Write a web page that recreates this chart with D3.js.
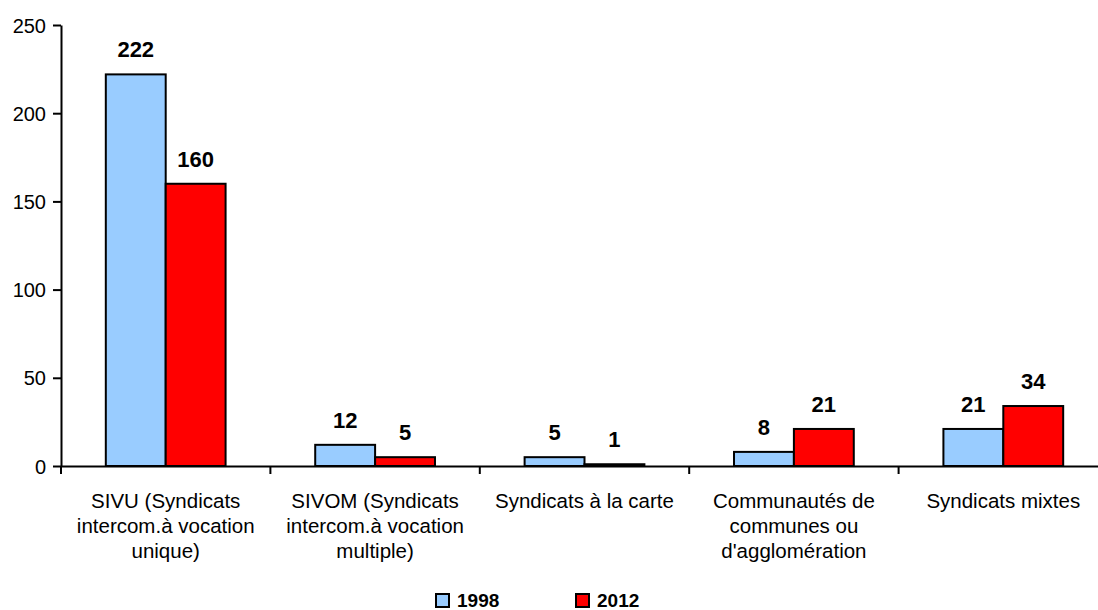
<!DOCTYPE html>
<html>
<head>
<meta charset="utf-8">
<script src="https://cdn.jsdelivr.net/npm/d3@7"></script>
<style>
  body { margin: 0; background: #fff; }
  text { font-family: Arial, "Liberation Sans", sans-serif; fill: #000; }
</style>
</head>
<body>
<svg width="1098" height="610"></svg>
<script>
var categories = ["SIVU", "SIVOM", "Carte", "Communautes", "Mixtes"];
var categoryLines = [
  ["SIVU (Syndicats", "intercom.à vocation", "unique)"],
  ["SIVOM (Syndicats", "intercom.à vocation", "multiple)"],
  ["Syndicats à la carte"],
  ["Communautés de", "communes ou", "d'agglomération"],
  ["Syndicats mixtes"]
];
var seriesNames = ["1998", "2012"];
var values1998 = [222, 12, 5, 8, 21];
var values2012 = [160, 5, 1, 21, 34];
var yTicks = [0, 50, 100, 150, 200, 250];
var colors = ["#99ccff", "#ff0000"];

var svg = d3.select("svg"),
    margin = {top: 25, left: 61},
    plotBottom = 466,
    plotRight = 1108;

var x = d3.scaleBand()
    .domain(categories)
    .range([margin.left, plotRight])
    .padding(0);

var x1 = d3.scaleBand()
    .domain(seriesNames)
    .range([x.bandwidth() * 0.214, x.bandwidth() * 0.786])
    .padding(0);

var y = d3.scaleLinear()
    .domain([0, 250])
    .range([plotBottom, margin.top]);

var z = d3.scaleOrdinal()
    .domain(seriesNames)
    .range(colors);

var rows = categories.map(function(c, i) {
  return {cat: c, vals: [
    {key: "1998", value: values1998[i]},
    {key: "2012", value: values2012[i]}
  ]};
});

// y axis
var yAxis = svg.append("g")
    .attr("transform", "translate(" + margin.left + ",0)")
    .call(d3.axisLeft(y).tickValues(yTicks).tickSize(8).tickPadding(7).tickSizeOuter(0));
yAxis.selectAll("path, line").attr("stroke", "#000").attr("stroke-width", 2);
yAxis.selectAll("text").style("font-size", "20px").attr("dy", "0.35em");

// bars
var groups = svg.append("g")
  .selectAll("g")
  .data(rows)
  .enter().append("g")
    .attr("transform", function(d) { return "translate(" + x(d.cat) + ",0)"; });

groups.selectAll("rect")
  .data(function(d) { return d.vals; })
  .enter().append("rect")
    .attr("x", function(d) { return x1(d.key); })
    .attr("y", function(d) { return y(d.value); })
    .attr("width", x1.bandwidth())
    .attr("height", function(d) { return y(0) - y(d.value); })
    .attr("fill", function(d) { return z(d.key); })
    .attr("stroke", "#000")
    .attr("stroke-width", 2);

groups.selectAll("text.val")
  .data(function(d) { return d.vals; })
  .enter().append("text")
    .attr("class", "val")
    .attr("x", function(d) { return x1(d.key) + x1.bandwidth() / 2; })
    .attr("y", function(d) { return y(d.value) - 17; })
    .attr("text-anchor", "middle")
    .style("font-size", "22px")
    .style("font-weight", "bold")
    .text(function(d) { return d.value; });

// x axis
var xAxis = svg.append("g")
    .attr("transform", "translate(0," + plotBottom + ")")
    .call(d3.axisBottom(x).tickSize(0).tickFormat(""));
xAxis.select(".domain").attr("stroke", "#000").attr("stroke-width", 2);
xAxis.selectAll(".tick line").remove();

xAxis.selectAll("line.sep")
  .data(categories)
  .enter().append("line")
    .attr("class", "sep")
    .attr("x1", function(d) { return x(d); })
    .attr("x2", function(d) { return x(d); })
    .attr("y1", 0)
    .attr("y2", 8)
    .attr("stroke", "#000")
    .attr("stroke-width", 2);

xAxis.selectAll("text.cat")
  .data(categories)
  .enter().append("text")
    .attr("class", "cat")
    .attr("text-anchor", "middle")
    .attr("transform", function(d) { return "translate(" + (x(d) + x.bandwidth() / 2) + ",42)"; })
    .style("font-size", "20.5px")
  .selectAll("tspan")
  .data(function(d, i) { return categoryLines[i]; })
  .enter().append("tspan")
    .attr("x", 0)
    .attr("dy", function(d, i) { return i === 0 ? 0 : 25; })
    .text(function(d) { return d; });

// legend
var legend = svg.append("g")
  .selectAll("g")
  .data(seriesNames)
  .enter().append("g")
    .attr("transform", function(d, i) { return "translate(" + (436 + i * 140) + ",594)"; });

legend.append("rect")
    .attr("width", 13)
    .attr("height", 13)
    .attr("fill", function(d) { return z(d); })
    .attr("stroke", "#000")
    .attr("stroke-width", 2);

legend.append("text")
    .attr("x", 21)
    .attr("y", 13)
    .style("font-size", "19px")
    .style("font-weight", "bold")
    .text(function(d) { return d; });
</script>
</body>
</html>
